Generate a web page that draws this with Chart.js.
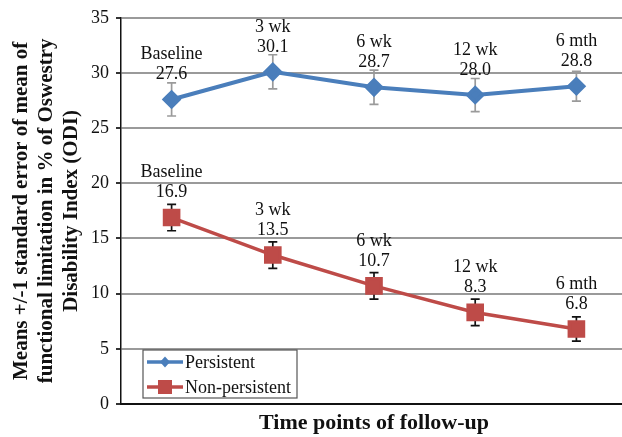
<!DOCTYPE html>
<html>
<head>
<meta charset="utf-8">
<script src="https://cdn.jsdelivr.net/npm/chart.js@4/dist/chart.umd.min.js"></script>
<style>
html, body { margin:0; padding:0; overflow:hidden; background:#fff; }
#wrap { width:628px; height:437px; position:relative; }
</style>
</head>
<body>
<div id="wrap"><canvas id="c"></canvas></div>
<script>
const categories = ["Baseline", "3 wk", "6 wk", "12 wk", "6 mth"];
const persistent = [27.6, 30.1, 28.7, 28.0, 28.8];
const persistentErr = [1.5, 1.55, 1.55, 1.5, 1.35];
const nonPersistent = [16.9, 13.5, 10.7, 8.3, 6.8];
const nonPersistentErr = [1.2, 1.2, 1.2, 1.2, 1.1];
const yTicks = [0, 5, 10, 15, 20, 25, 30, 35];

const SERIF = "'Liberation Serif', 'Times New Roman', serif";

const errorBars = {
  id: 'errorBars',
  beforeDatasetsDraw(chart) {
    const ctx = chart.ctx;
    const y = chart.scales.y;
    chart.data.datasets.forEach((ds, i) => {
      const meta = chart.getDatasetMeta(i);
      ctx.save();
      ctx.strokeStyle = ds.errColor;
      ctx.lineWidth = 1.7;
      meta.data.forEach((pt, j) => {
        const v = ds.data[j], e = ds.err[j];
        const yt = y.getPixelForValue(v + e), yb = y.getPixelForValue(v - e);
        const x = pt.x;
        ctx.beginPath();
        ctx.moveTo(x, yt); ctx.lineTo(x, yb);
        ctx.moveTo(x - 4.5, yt); ctx.lineTo(x + 4.5, yt);
        ctx.moveTo(x - 4.5, yb); ctx.lineTo(x + 4.5, yb);
        ctx.stroke();
      });
      ctx.restore();
    });
  }
};

const pointLabels = {
  id: 'pointLabels',
  afterDatasetsDraw(chart) {
    const ctx = chart.ctx;
    ctx.save();
    ctx.font = "18px " + SERIF;
    ctx.fillStyle = '#111';
    ctx.textAlign = 'center';
    ctx.textBaseline = 'middle';
    chart.data.datasets.forEach((ds, i) => {
      const meta = chart.getDatasetMeta(i);
      meta.data.forEach((pt, j) => {
        ctx.fillText(chart.data.labels[j], pt.x, pt.y - 45);
        ctx.fillText(ds.data[j].toFixed(1), pt.x, pt.y - 25);
      });
    });
    ctx.restore();
  }
};

const boxLegend = {
  id: 'boxLegend',
  afterDraw(chart) {
    const ctx = chart.ctx;
    const a = chart.chartArea;
    const bx = a.left + 22, by = a.bottom - 54, bw = 154, bh = 48;
    ctx.save();
    ctx.fillStyle = '#fff';
    ctx.fillRect(bx, by, bw, bh);
    ctx.strokeStyle = '#555';
    ctx.lineWidth = 1.2;
    ctx.strokeRect(bx, by, bw, bh);
    chart.data.datasets.forEach((ds, i) => {
      const cy = by + 12 + i * 25;
      const x0 = bx + 4, x1 = bx + 40, xm = (x0 + x1) / 2;
      ctx.strokeStyle = ds.borderColor;
      ctx.lineWidth = 3.5;
      ctx.beginPath(); ctx.moveTo(x0, cy); ctx.lineTo(x1, cy); ctx.stroke();
      ctx.fillStyle = ds.borderColor;
      if (ds.pointStyle === 'rectRot') {
        ctx.beginPath();
        ctx.moveTo(xm, cy - 5.5); ctx.lineTo(xm + 5, cy); ctx.lineTo(xm, cy + 5.5); ctx.lineTo(xm - 5, cy);
        ctx.closePath(); ctx.fill();
      } else {
        ctx.fillRect(xm - 7, cy - 7, 14, 14);
      }
      ctx.fillStyle = '#111';
      ctx.font = "18px " + SERIF;
      ctx.textAlign = 'left';
      ctx.textBaseline = 'middle';
      ctx.fillText(ds.label, x1 + 2, cy + 1);
    });
    ctx.restore();
  }
};

new Chart(document.getElementById('c'), {
  type: 'line',
  data: {
    labels: categories,
    datasets: [
      {
        label: 'Persistent', data: persistent, err: persistentErr, errColor: '#9a9a9a',
        borderColor: '#4A7EBB', backgroundColor: '#4A7EBB', borderWidth: 4,
        pointStyle: 'rectRot', pointRadius: 7, pointHoverRadius: 7, tension: 0
      },
      {
        label: 'Non-persistent', data: nonPersistent, err: nonPersistentErr, errColor: '#111',
        borderColor: '#BE4B48', backgroundColor: '#BE4B48', borderWidth: 3.5,
        pointStyle: 'rect', pointRadius: 10, pointHoverRadius: 10, tension: 0
      }
    ]
  },
  options: {
    responsive: true,
    maintainAspectRatio: false,
    animation: false,
    layout: { autoPadding: false, padding: { top: 16, right: 1, left: 0, bottom: 0 } },
    plugins: { legend: { display: false }, tooltip: { enabled: false } },
    scales: {
      x: {
        offset: true,
        grid: { display: false },
        ticks: { display: false },
        border: { display: true, color: '#111', width: 2 },
        title: { display: true, text: 'Time points of follow-up', color: '#111',
                 font: { family: SERIF, size: 22, weight: 'bold' }, padding: { top: 0, bottom: 0 } },
        afterFit(s) { s.height = 33; }
      },
      y: {
        min: 0, max: 35,
        afterBuildTicks(s) { s.ticks = yTicks.map(v => ({ value: v })); },
        ticks: { color: '#111', font: { family: SERIF, size: 18 }, padding: 7 },
        grid: { color: '#9a9a9a', lineWidth: 2, tickLength: 5, tickColor: '#333' },
        border: { display: true, color: '#111', width: 1.5 },
        title: { display: true,
                 text: ['Means +/-1 standard error of mean of', 'functional limitation in % of Oswestry', 'Disability Index (ODI)'],
                 color: '#111', font: { family: SERIF, size: 21, weight: 'bold', lineHeight: 1.2 },
                 padding: { top: 9, bottom: 0 } },
        afterFit(s) { s.width = 121; }
      }
    }
  },
  plugins: [errorBars, pointLabels, boxLegend]
});
</script>
</body>
</html>
